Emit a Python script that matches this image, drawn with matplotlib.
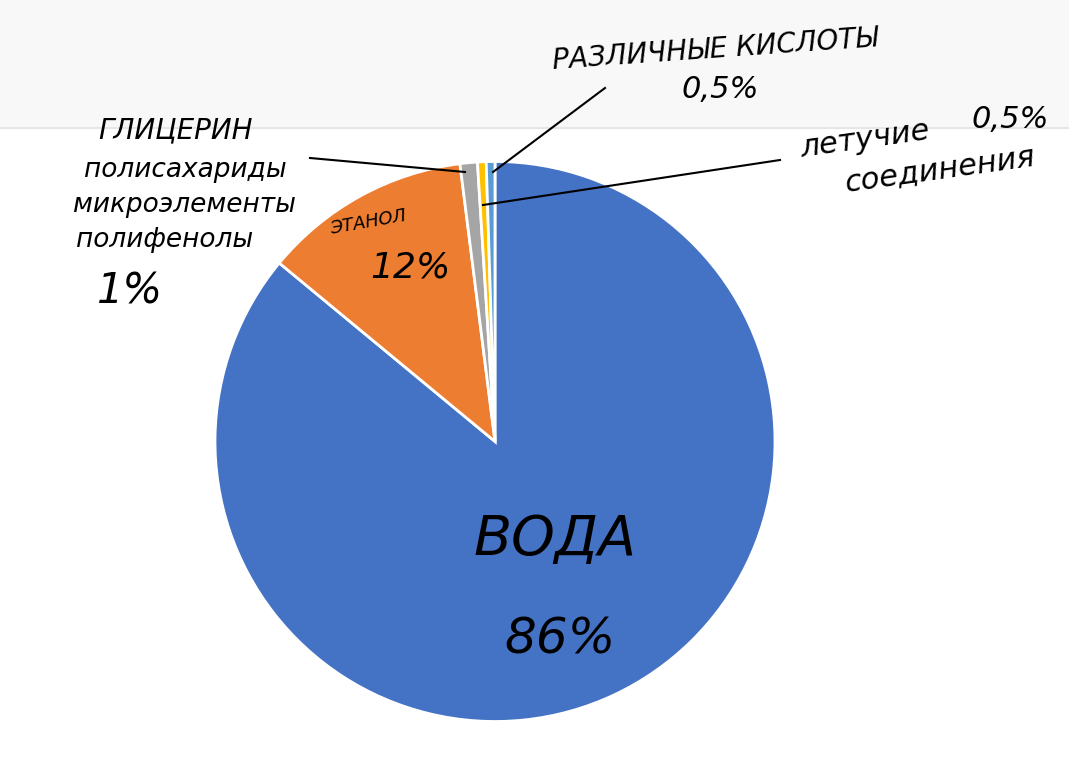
import matplotlib.pyplot as plt
from matplotlib.patches import Rectangle

labels = ["Вода", "Этанол", "Глицерин и др.", "Различные кислоты", "Летучие соединения"]
values = [86, 12, 1, 0.5, 0.5]
colors = ["#4472C4", "#ED7D31", "#A5A5A5", "#FFC000", "#5B9BD5"]

W, H = 1069, 765
fig = plt.figure(figsize=(W/100, H/100), dpi=100)
fig.patches.append(Rectangle((0, (H-128)/H), 1, 128/H, transform=fig.transFigure,
                             facecolor="#f8f8f8", edgecolor="none", zorder=0))
fig.add_artist(plt.Line2D([0, 1], [(H-128)/H]*2, color="#e6e6e6", lw=1.5))

ax = fig.add_axes([215/W, (H-722)/H, 560/W, 561/H])
ax.pie(values, colors=colors, startangle=90, counterclock=False,
       wedgeprops=dict(edgecolor="white", linewidth=2))
ax.set_xlim(-1, 1)
ax.set_ylim(-1, 1)
ax.set_aspect("equal")
ax.axis("off")

def t(x, y, s, size, **kw):
    fig.text(x/W, 1-y/H, s, fontsize=size, style="italic", family="DejaVu Sans",
             color="black", **kw)

t(555, 540, "ВОДА", 40, ha="center", va="center", fontweight="light")
t(560, 640, "86%", 36, ha="center", va="center")
t(368, 222, "ЭТАНОЛ", 13, ha="center", va="center", rotation=10)
t(410, 268, "12%", 26, ha="center", va="center")
t(175, 130, "ГЛИЦЕРИН", 20, ha="center", va="center")
t(185, 170, "полисахариды", 19, ha="center", va="center")
t(185, 205, "микроэлементы", 19, ha="center", va="center")
t(165, 240, "полифенолы", 19, ha="center", va="center")
t(130, 292, "1%", 30, ha="center", va="center")
t(715, 50, "РАЗЛИЧНЫЕ КИСЛОТЫ", 20, ha="center", va="center", rotation=4)
t(720, 90, "0,5%", 22, ha="center", va="center")
t(1010, 120, "0,5%", 22, ha="center", va="center")
t(865, 140, "летучие", 22, ha="center", va="center", rotation=8)
t(940, 170, "соединения", 22, ha="center", va="center", rotation=8)

def line(p, q):
    fig.add_artist(plt.Line2D([p[0]/W, q[0]/W], [1-p[1]/H, 1-q[1]/H], color="black", lw=1.5))
line((310, 158), (465, 172))
line((605, 88), (493, 172))
line((780, 160), (483, 205))

fig.savefig("out.png", dpi=100, facecolor="white")
